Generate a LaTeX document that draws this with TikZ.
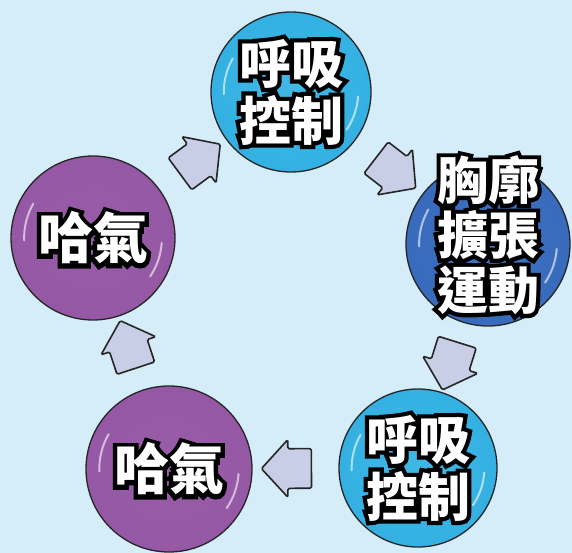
\documentclass[tikz,border=0pt]{standalone}
\usepackage{fontspec}
\newfontfamily\cjk{Noto Sans CJK TC}
\usetikzlibrary{shapes.arrows}
\definecolor{bgc}{RGB}{213,236,249}
\definecolor{arrowc}{RGB}{200,206,230}
\pgfdeclareradialshading{cyanball}{\pgfpoint{0bp}{0bp}}{rgb(0bp)=(0.25,0.72,0.9); rgb(36bp)=(0.18,0.68,0.88); rgb(46bp)=(0.12,0.58,0.80); rgb(50bp)=(0.08,0.48,0.72)}
\pgfdeclareradialshading{blueball}{\pgfpoint{0bp}{0bp}}{rgb(0bp)=(0.24,0.44,0.76); rgb(36bp)=(0.21,0.41,0.72); rgb(46bp)=(0.15,0.33,0.62); rgb(50bp)=(0.10,0.24,0.50)}
\pgfdeclareradialshading{purpleball}{\pgfpoint{0bp}{0bp}}{rgb(0bp)=(0.60,0.36,0.66); rgb(36bp)=(0.58,0.34,0.64); rgb(46bp)=(0.50,0.27,0.57); rgb(50bp)=(0.40,0.20,0.46)}
% outlined text: a black emboldened copy under the white text
\newcommand\olt[1]{\leavevmode\rlap{\color{black}\addfontfeature{FakeBold=16}#1}#1}
\tikzset{
  ball/.style={circle, draw=black!85, line width=1.3pt, inner sep=0pt, shade, shading=#1},
  txt/.style={text=white, align=center, inner sep=0pt, font=\cjk\bfseries\fontsize{52}{57}\selectfont},
  barrow/.style={single arrow, draw=black!85, line width=1.6pt, fill=arrowc,
    minimum height=50pt, minimum width=56pt, single arrow head extend=9pt,
    single arrow tip angle=95, inner xsep=0pt, inner ysep=19pt, sloped, allow upside down, midway,
    rounded corners=1.5pt},
  hl/.style={white, opacity=0.6, line width=2pt, line cap=round}
}
\begin{document}
\begin{tikzpicture}[x=1pt,y=-1pt]
\fill[bgc] (0,0) rectangle (572,553);
\useasboundingbox (0,0) rectangle (572,553);

\node[ball=cyanball, minimum size=160pt, label={[txt]center:{\olt{呼吸}\\\olt{控制}}}] (T) at (291,92) {};
\node[ball=blueball, minimum size=164pt, label={[txt, yshift=9pt, font=\cjk\bfseries\fontsize{51}{55}\selectfont]center:{\olt{胸廓}\\\olt{擴張}\\\olt{運動}}}] (R) at (488,244) {};
\node[ball=cyanball, minimum size=158pt, label={[txt]center:{\olt{呼吸}\\\olt{控制}}}] (BR) at (418,468) {};
\node[ball=purpleball, minimum size=166pt, label={[txt, font=\cjk\bfseries\fontsize{55}{57}\selectfont]center:{\olt{哈氣}}}] (BL) at (169,469) {};
\node[ball=purpleball, minimum size=164pt, label={[txt, font=\cjk\bfseries\fontsize{55}{57}\selectfont]center:{\olt{哈氣}}}] (L) at (93,238) {};

% glossy highlights
\foreach \n/\r in {T/80, R/82, BR/79, BL/83, L/82}{
  \draw[hl] ([shift={(150:{\r*0.84 pt})}]\n.center) arc[start angle=150, end angle=182, radius={\r*0.84 pt}];
  \draw[hl] ([shift={(-4:{\r*0.84 pt})}]\n.center) arc[start angle=-4, end angle=-34, radius={\r*0.84 pt}];
}

\path (L) -- node[barrow]{} (T);
\path (T) -- node[barrow]{} (R);
\path (R) -- node[barrow]{} (BR);
\path (BR) -- node[barrow]{} (BL);
\path (BL) -- node[barrow]{} (L);
\end{tikzpicture}
\end{document}
